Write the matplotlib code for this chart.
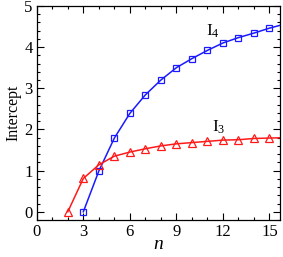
import matplotlib
matplotlib.use("Agg")
import matplotlib.pyplot as plt
from matplotlib.ticker import MultipleLocator

# data
n_i4 = [3, 4, 5, 6, 7, 8, 9, 10, 11, 12, 13, 14, 15, 16]
i4 = [0.0, 0.99, 1.79, 2.39, 2.84, 3.20, 3.50, 3.72, 3.92, 4.10, 4.23, 4.34, 4.46, 4.56]
n_i3 = [2, 3, 4, 5, 6, 7, 8, 9, 10, 11, 12, 13, 14, 15, 16]
i3 = [0.0, 0.81, 1.14, 1.35, 1.45, 1.53, 1.60, 1.65, 1.68, 1.71, 1.74, 1.75, 1.78, 1.79, 1.80]
x_ticks = [0, 3, 6, 9, 12, 15]
y_ticks = [0, 1, 2, 3, 4, 5]

plt.rcParams['font.family'] = ['Liberation Serif', 'DejaVu Serif']
plt.rcParams['mathtext.fontset'] = 'custom'
plt.rcParams['mathtext.rm'] = 'Liberation Serif'
plt.rcParams['mathtext.it'] = 'Liberation Serif:italic'

fig = plt.figure(figsize=(2.83, 2.57), dpi=100)
ax = fig.add_axes([0.13, 0.144, 0.859, 0.833])

ax.plot(n_i4, i4, color='#1a1aff', lw=1.1, marker='s', ms=4.8,
        mfc='none', mec='#1a1aff', mew=0.9)
ax.plot(n_i3, i3, color='#ff1a1a', lw=1.1, marker='^', ms=5.2,
        mfc='none', mec='#ff1a1a', mew=0.9)

ax.text(11.35, 4.38, r'$\mathrm{I}_4$', fontsize=12.5, ha='center', va='center')
ax.text(11.7, 2.05, r'$\mathrm{I}_3$', fontsize=12.5, ha='center', va='center')

ax.set_xlim(0, 15.67)
ax.set_ylim(-0.2, 5.0)
ax.set_xticks(x_ticks)
ax.set_yticks(y_ticks)
ax.xaxis.set_minor_locator(MultipleLocator(1))
ax.yaxis.set_minor_locator(MultipleLocator(0.2))
ax.tick_params(which='both', direction='in', top=True, right=True, labelsize=12, pad=3)
ax.tick_params(which='major', length=5, width=0.8)
ax.tick_params(which='minor', length=2.5, width=0.8)
for s in ax.spines.values():
    s.set_linewidth(0.9)

ax.set_xlabel(r'$n$', fontsize=14, labelpad=-3)
ax.set_ylabel('Intercept', fontsize=11.5, labelpad=2)

fig.savefig('out.png', dpi=100)
